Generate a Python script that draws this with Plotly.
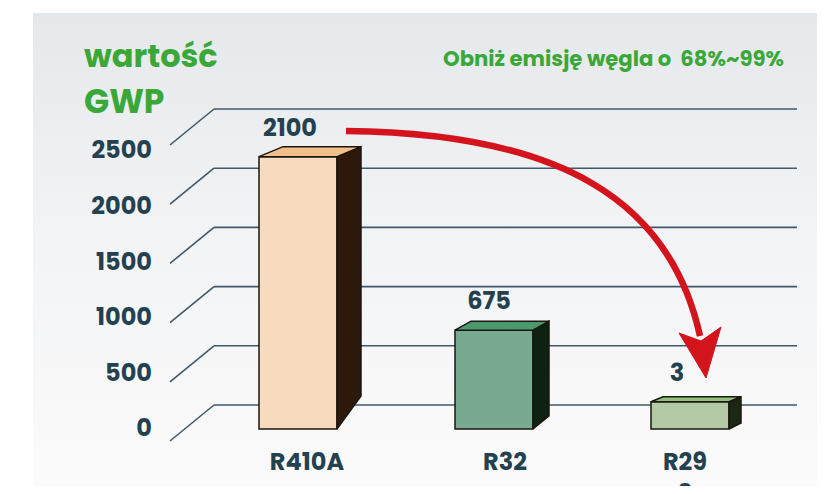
import base64
import plotly.graph_objects as go

# ---------------- data ----------------
categories = ["R410A", "R32", "R290"]
category_text = ["R410A", "R32", "R29<br>0"]       # as printed (wrapped) in the picture
gwp_labels = ["2100", "675", "3"]                  # values printed above the bars
drawn_heights = [2300, 835, 230]                   # bar heights as drawn against the axis
axis_ticks = [0, 500, 1000, 1500, 2000, 2500]
axis_tick_text = ["0", "500", "1000", "1500", "2000", "2500"]

# ---------------- styles ----------------
OFF = 8                      # page body margin
W, H = 825 - OFF, 494 - 2 * OFF
FONT = "Poppins, Open Sans, sans-serif"
GREEN = "#39a838"
DARK = "#24414f"
GRID = "#40596a"
OUTLINE = "#1d1510"
RED = "#d3141c"
front_colors = ["#f8dbbf", "#7aa991", "#b4c9a6"]
top_colors = ["#f3bf8b", "#4a9a6e", "#93bf7c"]
side_colors = ["#2c190b", "#0d2211", "#1c2813"]
depth_px = [(24, 10, 33), (16, 9, 13), (12, 5, 6)]   # (dx, top dy, bottom dy) of 3-D side
value_label_shift_px = [-8, -5, -13]
category_label_shift_px = [9, 11, -5]

# geometry, in page pixels
X_PX0, X_STEP = 298.0, 196.0       # pixel of category 0, pixels per category
Y_BASE, Y_SCALE = 429.0, 0.1184    # pixel of value 0, pixels per unit
L_BASE, L_SCALE = 428.0, 278.0 / 2500  # tick-label axis

def dx(p):
    return p / X_STEP

def dy(p):
    return p / Y_SCALE

def px2x(p):
    return (p - X_PX0) / X_STEP

def py2y(p):
    return (Y_BASE - p) / Y_SCALE

def ly(p):
    return (L_BASE - p) / L_SCALE

def paper_x(p):
    return (p - OFF) / W

def paper_y(p):
    return 1 - (p - OFF) / H

bar_w = dx(78)
idx = list(range(len(categories)))

fig = go.Figure()

# front faces
fig.add_trace(go.Bar(
    x=idx, y=drawn_heights, width=bar_w,
    marker=dict(color=front_colors, line=dict(color=OUTLINE, width=1.5)),
    hoverinfo="skip", showlegend=False,
))

# side and top faces
for i, h in enumerate(drawn_heights):
    xl, xr = i - bar_w / 2, i + bar_w / 2
    ddx, dyt, dyb = dx(depth_px[i][0]), dy(depth_px[i][1]), dy(depth_px[i][2])
    fig.add_trace(go.Scatter(
        x=[xr, xr, xr + ddx, xr + ddx, xr], y=[0, h, h + dyt, dyb, 0],
        mode="lines", fill="toself", fillcolor=side_colors[i],
        line=dict(color=OUTLINE, width=1.5), hoverinfo="skip", showlegend=False))
    fig.add_trace(go.Scatter(
        x=[xl, xr, xr + ddx, xl + ddx, xl], y=[h, h, h + dyt, h + dyt, h],
        mode="lines", fill="toself", fillcolor=top_colors[i],
        line=dict(color=OUTLINE, width=1.5), hoverinfo="skip", showlegend=False))

# value labels
fig.add_trace(go.Scatter(
    x=[i + dx(s) for i, s in zip(idx, value_label_shift_px)],
    y=[h + dy(27) for h in drawn_heights],
    text=gwp_labels, mode="text", textposition="middle center",
    textfont=dict(family=FONT, size=24, color=DARK, weight=700),
    hoverinfo="skip", showlegend=False))

# category labels (clipped at the bottom edge like the picture)
fig.add_trace(go.Scatter(
    x=[i + dx(s) for i, s in zip(idx, category_label_shift_px)], y=[py2y(452)] * len(idx),
    text=category_text, mode="text", textposition="bottom center", cliponaxis=True,
    textfont=dict(family=FONT, size=24, color=DARK, weight=700),
    hoverinfo="skip", showlegend=False))

# invisible trace to carry the label axis
fig.add_trace(go.Scatter(x=[0], y=[0], yaxis="y2", mode="markers",
                         marker=dict(opacity=0), hoverinfo="skip", showlegend=False))

shapes = []
# back wall gridlines and floor diagonals
for v in axis_ticks:
    shapes.append(dict(type="line", xref="x", yref="y", layer="below",
                       x0=px2x(214), x1=px2x(797), y0=v + dy(24), y1=v + dy(24),
                       line=dict(color=GRID, width=1.6)))
    shapes.append(dict(type="line", xref="x", yref="y", layer="below",
                       x0=px2x(170), x1=px2x(214), y0=v - dy(12), y1=v + dy(24),
                       line=dict(color=GRID, width=1.6)))

# red arrow
p0, p1, p2, p3 = (346, 131), (560, 133), (670, 200), (700, 336)
path = "M {},{} C {},{} {},{} {},{}".format(
    px2x(p0[0]), py2y(p0[1]), px2x(p1[0]), py2y(p1[1]),
    px2x(p2[0]), py2y(p2[1]), px2x(p3[0]), py2y(p3[1]))
shapes.append(dict(type="path", xref="x", yref="y", path=path, layer="above",
                   line=dict(color=RED, width=6.5)))
head = [(679, 333), (701, 341), (721, 327), (706, 378)]
hp = "M " + " L ".join("{},{}".format(px2x(a), py2y(b)) for a, b in head) + " Z"
shapes.append(dict(type="path", xref="x", yref="y", path=hp, layer="above",
                   fillcolor=RED, line=dict(color=RED, width=1)))

# background gradient panel
svg = ('<svg xmlns="http://www.w3.org/2000/svg" width="100" height="100" preserveAspectRatio="none">'
       '<defs><linearGradient id="g" x1="0" y1="0" x2="0" y2="1">'
       '<stop offset="0" stop-color="#e5e8eb"/><stop offset="0.45" stop-color="#f2f3f5"/>'
       '<stop offset="1" stop-color="#fbfbfb"/></linearGradient></defs>'
       '<rect width="100" height="100" fill="url(#g)"/></svg>')
src = "data:image/svg+xml;base64," + base64.b64encode(svg.encode()).decode()

annotations = [
    dict(text="wartość", xref="paper", yref="paper", x=paper_x(82), y=paper_y(55),
         xanchor="left", yanchor="middle", showarrow=False,
         font=dict(family=FONT, size=32, color=GREEN, weight=700)),
    dict(text="GWP", xref="paper", yref="paper", x=paper_x(82), y=paper_y(101),
         xanchor="left", yanchor="middle", showarrow=False,
         font=dict(family=FONT, size=33, color=GREEN, weight=700)),
    dict(text="Obniż emisję węgla o\u00a0 68%~99%", xref="paper", yref="paper",
         x=paper_x(613), y=paper_y(58), xanchor="center", yanchor="middle", showarrow=False,
         font=dict(family=FONT, size=21.2, color=GREEN, weight=700)),
]

fig.update_layout(
    width=W, height=H, autosize=False,
    margin=dict(l=0, r=0, t=0, b=0),
    paper_bgcolor="white", plot_bgcolor="rgba(0,0,0,0)",
    showlegend=False, barmode="overlay",
    xaxis=dict(range=[px2x(OFF), px2x(OFF + W)], showgrid=False, zeroline=False,
               showline=False, showticklabels=False, ticks="", fixedrange=True),
    yaxis=dict(range=[py2y(OFF + H), py2y(OFF)], showgrid=False, zeroline=False,
               showticklabels=False, fixedrange=True),
    yaxis2=dict(overlaying="y", anchor="free", position=paper_x(152), side="left",
                range=[ly(OFF + H), ly(OFF)],
                tickvals=axis_ticks, ticktext=axis_tick_text, ticks="",
                showgrid=False, zeroline=False, showline=False,
                tickfont=dict(family=FONT, size=24, color=DARK, weight=700), fixedrange=True),
    shapes=shapes, annotations=annotations,
    images=[dict(source=src, xref="paper", yref="paper", x=paper_x(33), y=paper_y(13),
                 sizex=1 - paper_x(33), sizey=paper_y(13), xanchor="left", yanchor="top",
                 sizing="stretch", layer="below")],
)

fig.write_html("out.html")
